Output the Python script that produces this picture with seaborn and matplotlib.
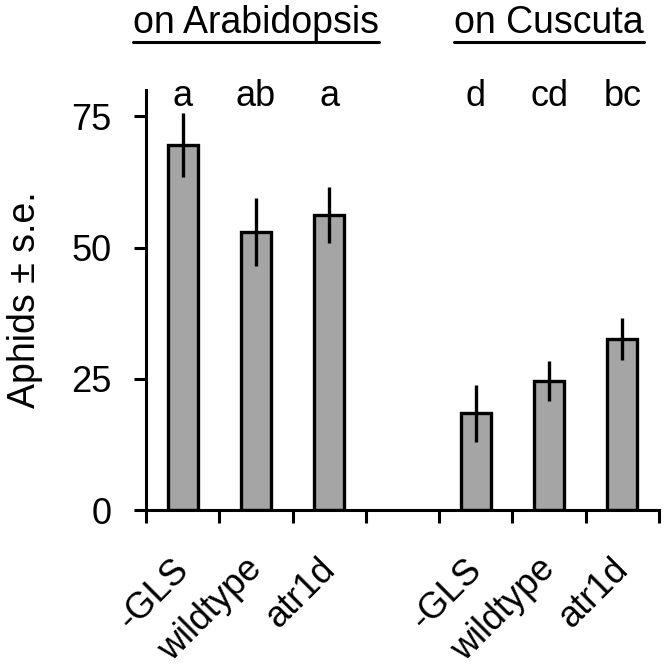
import numpy as np
import pandas as pd
import matplotlib
matplotlib.use("Agg")
import matplotlib.pyplot as plt
from matplotlib.lines import Line2D
import matplotlib.transforms as mtransforms
import seaborn as sns

# ---- data ----
host_groups = ["on Arabidopsis", "on Cuscuta"]
genotypes = ["-GLS", "wildtype", "atr1d"]
arabidopsis_means = [69.6, 53.0, 56.2]
arabidopsis_se = [6.1, 6.5, 5.3]
cuscuta_means = [18.4, 24.6, 32.5]
cuscuta_se = [5.4, 3.85, 4.0]
arabidopsis_letters = ["a", "ab", "a"]
cuscuta_letters = ["d", "cd", "bc"]
y_ticks = [0, 25, 50, 75]

sns.set_style("ticks")
plt.rcParams["font.family"] = ["Liberation Sans", "DejaVu Sans"]
plt.rcParams.update({"text.color": "black", "axes.labelcolor": "black",
                     "xtick.color": "black", "ytick.color": "black",
                     "axes.edgecolor": "black"})

rows = []
for g, means, ses, lets in [(host_groups[0], arabidopsis_means, arabidopsis_se, arabidopsis_letters),
                            (host_groups[1], cuscuta_means, cuscuta_se, cuscuta_letters)]:
    for gt, m, s, l in zip(genotypes, means, ses, lets):
        rows.append({"key": f"{g}|{gt}", "group": g, "genotype": gt, "mean": m, "se": s, "letter": l})
df = pd.DataFrame(rows)

order = [f"{host_groups[0]}|{gt}" for gt in genotypes] + ["gap"] + [f"{host_groups[1]}|{gt}" for gt in genotypes]
pos = {k: i for i, k in enumerate(order)}
df["pos"] = df["key"].map(pos)

fig = plt.figure(figsize=(6.64, 6.72), dpi=100)
ax = fig.add_axes([146/664, 1-510/672, 513/664, 420/672])

sns.barplot(data=df, x="key", y="mean", order=order, color="#a5a5a5", saturation=1,
            width=0.41, edgecolor="black", linewidth=2.4, errorbar=None, ax=ax)
ax.errorbar(df["pos"], df["mean"], yerr=df["se"], fmt="none", ecolor="black",
            elinewidth=2.4, capsize=0, zorder=5)

ax.set_xlim(-0.5, 6.5)
ax.set_ylim(0, 80)
ax.set_yticks(y_ticks)
ax.set_xticks(np.arange(-0.5, 7, 1.0))
ax.set_xticklabels([])
ax.set_xticks(df["pos"], df["genotype"], minor=True)
ax.tick_params(axis="x", which="minor", length=0, pad=30, labelsize=26)
offset = mtransforms.ScaledTranslation(-12/100, 0, fig.dpi_scale_trans)
for lab in ax.get_xticklabels(minor=True):
    lab.set_rotation(45)
    lab.set_ha("right")
    lab.set_va("top")
    lab.set_rotation_mode("anchor")
    lab.set_transform(lab.get_transform() + offset)
ax.tick_params(axis="x", which="major", length=9, width=2.2, direction="out")
ax.tick_params(axis="y", length=9, width=2.2, direction="out", pad=16, labelsize=26)
for s in ["top", "right"]:
    ax.spines[s].set_visible(False)
for s in ["left", "bottom"]:
    ax.spines[s].set_linewidth(2.2)
    ax.spines[s].set_color("black")
ax.set_xlabel("")
ax.set_ylabel("Aphids \u00b1 s.e.", fontsize=27, labelpad=20)

for _, r in df.iterrows():
    ax.text(r["pos"], 77.0, r["letter"], ha="center", va="baseline", fontsize=26, clip_on=False)

titles = []
trans = mtransforms.blended_transform_factory(ax.transData, fig.transFigure)
for g, xc in zip(host_groups, [1, 5]):
    t = ax.text(xc, 1 - 33/672, g, transform=trans, ha="center", va="baseline", fontsize=27)
    titles.append(t)

fig.canvas.draw()
renderer = fig.canvas.get_renderer()
inv = fig.transFigure.inverted()
for t in titles:
    bb = t.get_window_extent(renderer)
    (x0, y0) = inv.transform((bb.x0, bb.y0 - 1))
    (x1, _) = inv.transform((bb.x1, bb.y0 - 1))
    fig.add_artist(Line2D([x0, x1], [y0, y0], transform=fig.transFigure, color="black", linewidth=2.2))

fig.savefig("out.png", dpi=100)
